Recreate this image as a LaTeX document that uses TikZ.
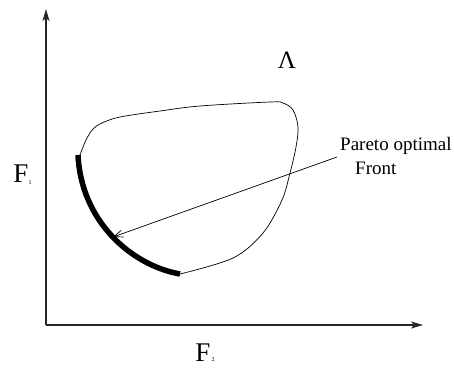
\documentclass[tikz,border=0pt]{standalone}
\usepackage{fontspec}
\setmainfont{Liberation Serif}
\usetikzlibrary{arrows.meta}
\begin{document}
\begin{tikzpicture}[x=1pt,y=-1pt,
  axis/.style={line width=1.3pt,draw=black!85,-{Stealth[length=12pt,width=7pt,inset=3pt]}},
  region/.style={line width=0.7pt},
  front/.style={line width=5.5pt},
  pointer/.style={line width=0.7pt,-{Straight Barb[length=9pt,width=7pt]}},
  lbl/.style={inner sep=0pt},
  big/.style={lbl,font=\fontsize{27}{29}\selectfont},
  tiny/.style={lbl,font=\fontsize{6}{6}\selectfont},
  note/.style={lbl,anchor=west,font=\fontsize{19}{21}\selectfont}]
\useasboundingbox (0,0) rectangle (454,367);
\coordinate (O) at (46,325);
\coordinate (ytip) at (46,9);
\coordinate (xtip) at (423,325);
\draw[axis] (O) -- (ytip);
\draw[axis] (O) -- (xtip);
\coordinate (fs) at (78,155);
\coordinate (fe) at (180,274);
\draw[region] plot[smooth,tension=0.55] coordinates {(180,274) (233,258) (263,233) (282,200) (290,173) (296,147) (298,127) (293,110) (283,103) (270,102) (200,106) (160,111) (120,117) (102,123) (93,129) (86,140) (80,155)};
\draw[front] (fs) .. controls (81,220) and (130,265) .. (fe);
\node[note] (po) at (340,146) {Pareto optimal};
\node[note] (fr) at (355,168) {Front};
\coordinate (pstart) at (337,157);
\coordinate (pend) at (113,237);
\draw[pointer] (pstart) -- (pend);
\node[lbl,font=\fontsize{25}{27}\selectfont] (lam) at (287,60) {Λ};
\node[big] (f1) at (21,174) {F};
\node[tiny] (f1s) at (30,183) {1};
\node[big] (f2) at (203,353) {F};
\node[tiny] (f2s) at (213,360) {2};
\end{tikzpicture}
\end{document}
